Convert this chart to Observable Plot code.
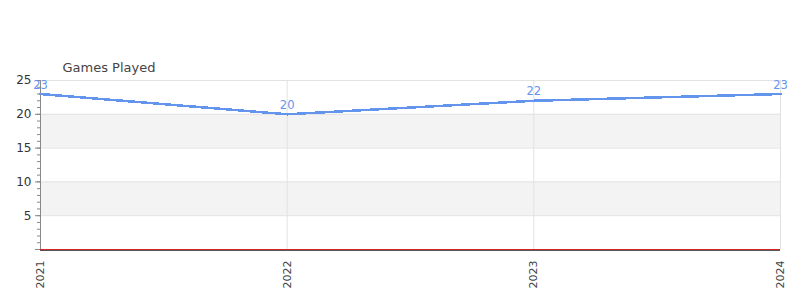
<!DOCTYPE html>
<html>
<head>
<meta charset="utf-8">
<script src="https://cdn.jsdelivr.net/npm/d3@7"></script>
<script src="https://cdn.jsdelivr.net/npm/@observablehq/plot@0.6"></script>
<style>
  html, body { margin: 0; padding: 0; background: #fff; }
  #chart svg { display: block; }
</style>
</head>
<body>
<div id="chart"></div>
<script>
const title = "Games Played";
const years = [2021, 2022, 2023, 2024];
const games = [23, 20, 22, 23];
const yTicks = [0, 5, 10, 15, 20, 25];
const yMinorTicks = d3.range(0, 26);
const bands = [[5, 10], [15, 20]];

const data = years.map((y, i) => ({year: y, value: games[i]}));
const bandData = bands.map(([a, b]) => ({y1: a, y2: b}));

const lineColor = "#6495ed";

const chart = Plot.plot({
  width: 800,
  height: 300,
  marginTop: 80,
  marginRight: 20,
  marginBottom: 51,
  marginLeft: 40,
  style: {fontFamily: "DejaVu Sans", fontSize: "12px", color: "#333", background: "#fff"},
  x: {domain: [2021, 2024], type: "linear"},
  y: {domain: [0, 25]},
  marks: [
    Plot.rectY(bandData, {y1: "y1", y2: "y2", fill: "#f3f3f3"}),
    Plot.gridY(yTicks.filter(d => d > 0), {stroke: "#e2e2e2", strokeOpacity: 1}),
    Plot.gridX(years, {stroke: "#e2e2e2", strokeOpacity: 1}),
    Plot.axisY(yMinorTicks, {tickSize: 3, text: null, stroke: "#888", label: null}),
    Plot.axisY(yTicks, {tickSize: 5, stroke: "#888", label: null, fill: "#333",
      tickFormat: d => d === 0 ? "" : String(d), fontSize: 12}),
    Plot.axisX(years, {tickSize: 0, tickRotate: -90, tickFormat: d => String(d),
      label: null, fill: "#444", fontSize: 11, tickPadding: 11}),
    Plot.ruleX([2021], {stroke: "#888"}),
    Plot.ruleY([0], {stroke: "#555", dy: 1, strokeWidth: 1}),
    Plot.ruleY([0], {stroke: "#d62728", strokeWidth: 1}),
    Plot.line(data, {x: "year", y: "value", stroke: lineColor, strokeWidth: 2.5, shapeRendering: "crispEdges"}),
    Plot.text(data, {x: "year", y: "value", text: d => String(d.value), dy: -9, fill: lineColor, fontSize: 11.5}),
    Plot.text([title], {frameAnchor: "top-left", text: d => d, dx: 22, dy: -13, textAnchor: "start",
      lineAnchor: "middle", fill: "#444", fontSize: 13})
  ]
});
document.getElementById("chart").appendChild(chart);
</script>
</body>
</html>
